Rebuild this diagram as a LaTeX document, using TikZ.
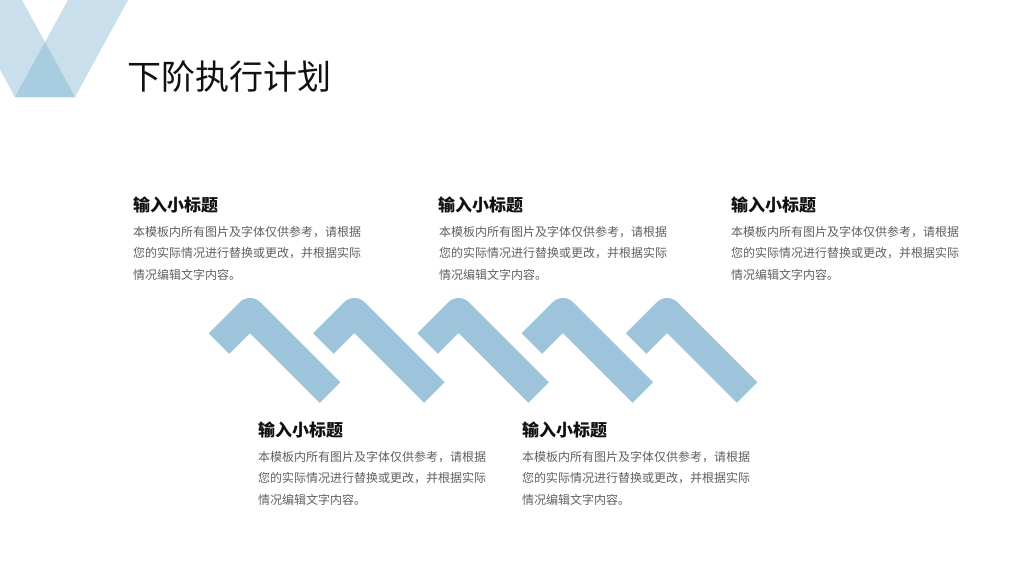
\documentclass[tikz,border=0pt]{standalone}
\usepackage{fontspec}
\setmainfont{Noto Sans CJK SC}
\definecolor{chev}{HTML}{9DC4DA}
\definecolor{vlight}{HTML}{C9DFEB}
\definecolor{vdark}{HTML}{A9CDE0}
\definecolor{bodygray}{HTML}{606060}
\definecolor{headblack}{HTML}{111111}
\tikzset{
  chevron/.style={draw=chev, line width=29pt, line join=round, line cap=butt},
  heading/.style={anchor=west, inner sep=0pt, text=headblack, font=\fontsize{17}{20}\selectfont\bfseries},
  bodytext/.style={anchor=north west, inner sep=0pt, text=bodygray, align=left, font=\fontsize{12}{21.5}\selectfont},
}
\begin{document}
\begin{tikzpicture}[x=1pt,y=-1pt]
\useasboundingbox (0,0) rectangle (1024,576);
\fill[white] (0,0) rectangle (1024,576);
% top-left V
\begin{scope}
\clip (0,0) rectangle (1024,576);
\fill[vlight] (-38,0) -- (22,0) -- (75,97) -- (15,97) -- cycle;
\fill[vlight] (68,0) -- (128,0) -- (75,97) -- (15,97) -- cycle;
\fill[vdark] (45,42) -- (75,97) -- (15,97) -- cycle;
\end{scope}
% title
\node[anchor=west, inner sep=0pt, text=headblack, font=\fontsize{34}{40}\selectfont] (title) at (127,77) {下阶执行计划};
% chevrons
\foreach \i in {0,...,4}{
  \pgfmathsetmacro{\xa}{250+104.3*\i}
  \draw[chevron] (\xa-31,343.5) -- (\xa,312.5) -- (\xa+80,392.5);
}
% text blocks
\node[heading] (h1) at (133,205) {输入小标题};
\node[bodytext] (b1) at (133,226) {本模板内所有图片及字体仅供参考，请根据\\您的实际情况进行替换或更改，并根据实际\\情况编辑文字内容。};
\node[heading] (h2) at (438,205) {输入小标题};
\node[bodytext] (b2) at (439,226) {本模板内所有图片及字体仅供参考，请根据\\您的实际情况进行替换或更改，并根据实际\\情况编辑文字内容。};
\node[heading] (h3) at (731,205) {输入小标题};
\node[bodytext] (b3) at (731,226) {本模板内所有图片及字体仅供参考，请根据\\您的实际情况进行替换或更改，并根据实际\\情况编辑文字内容。};
\node[heading] (h4) at (258,430) {输入小标题};
\node[bodytext] (b4) at (258,451) {本模板内所有图片及字体仅供参考，请根据\\您的实际情况进行替换或更改，并根据实际\\情况编辑文字内容。};
\node[heading] (h5) at (522,430) {输入小标题};
\node[bodytext] (b5) at (522,451) {本模板内所有图片及字体仅供参考，请根据\\您的实际情况进行替换或更改，并根据实际\\情况编辑文字内容。};
\end{tikzpicture}
\end{document}
